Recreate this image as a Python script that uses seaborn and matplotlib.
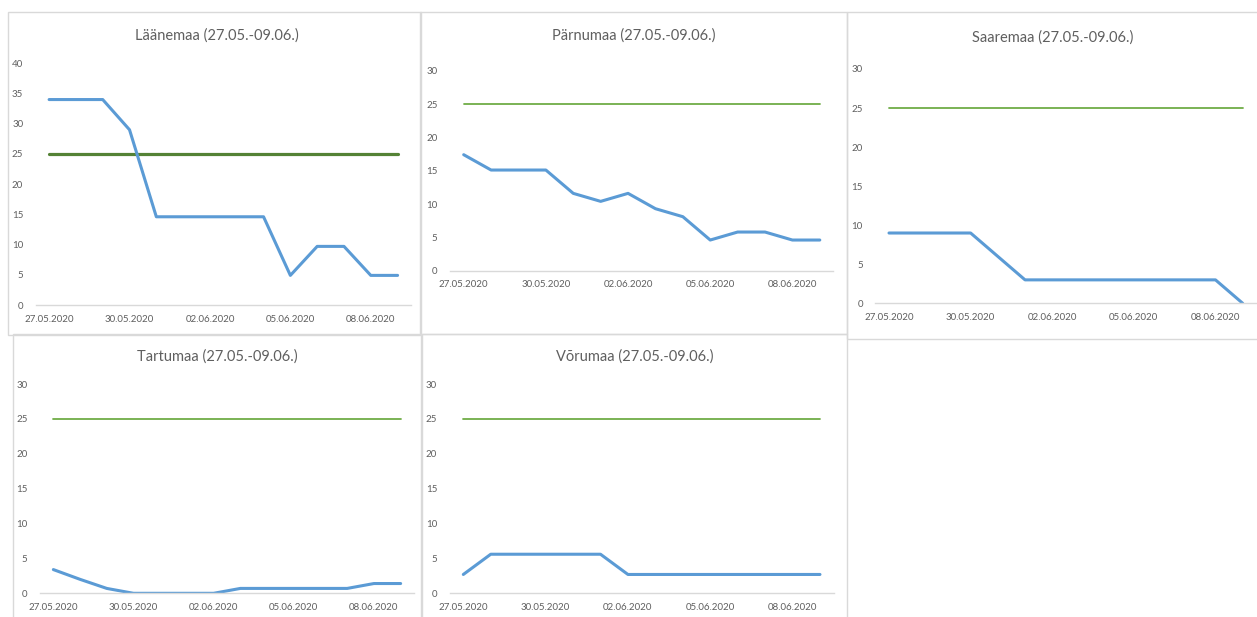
import matplotlib
matplotlib.use("Agg")
import matplotlib.pyplot as plt
from matplotlib.patches import Rectangle
import pandas as pd
import seaborn as sns

# 14 days, 27.05.2020 - 09.06.2020
dates = ["27.05.2020", "28.05.2020", "29.05.2020", "30.05.2020", "31.05.2020",
         "01.06.2020", "02.06.2020", "03.06.2020", "04.06.2020", "05.06.2020",
         "06.06.2020", "07.06.2020", "08.06.2020", "09.06.2020"]

threshold = [25, 25, 25, 25, 25, 25, 25, 25, 25, 25, 25, 25, 25, 25]

laanemaa = [34.0, 34.0, 34.0, 29.0, 14.6, 14.6, 14.6, 14.6, 14.6, 4.9, 9.7, 9.7, 4.9, 4.9]
parnumaa = [17.4, 15.1, 15.1, 15.1, 11.6, 10.4, 11.6, 9.3, 8.1, 4.6, 5.8, 5.8, 4.6, 4.6]
saaremaa = [9.0, 9.0, 9.0, 9.0, 6.0, 3.0, 3.0, 3.0, 3.0, 3.0, 3.0, 3.0, 3.0, 0.0]
tartumaa = [3.4, 2.0, 0.7, 0.0, 0.0, 0.0, 0.0, 0.7, 0.7, 0.7, 0.7, 0.7, 1.4, 1.4]
vorumaa = [2.7, 5.6, 5.6, 5.6, 5.6, 5.6, 2.7, 2.7, 2.7, 2.7, 2.7, 2.7, 2.7, 2.7]

titles = ["Läänemaa (27.05.-09.06.)", "Pärnumaa (27.05.-09.06.)", "Saaremaa (27.05.-09.06.)",
          "Tartumaa (27.05.-09.06.)", "Võrumaa (27.05.-09.06.)"]
series = [laanemaa, parnumaa, saaremaa, tartumaa, vorumaa]
ymax = [40, 30, 30, 30, 30]

W, H = 1257, 617

# layout in pixels: box (l, t, r, b), axes (l, r, y0, ytop), title y
panels = [
    dict(box=(8, 12, 421, 335), ax=(35.7, 411, 305, 63.3), ty=36),
    dict(box=(420, 12, 847, 334), ax=(450, 833.5, 270.7, 70.7), ty=36),
    dict(box=(847, 12, 1258, 339), ax=(875.4, 1256.3, 303.3, 69), ty=38),
    dict(box=(13, 334, 421, 620), ax=(40, 414, 593.3, 384), ty=357),
    dict(box=(422, 334, 847, 620), ax=(449.6, 833.7, 593.3, 384), ty=357),
]

sns.set_theme(style="white")
plt.rcParams["font.family"] = ["Lato", "DejaVu Sans"]

TXT = "#5f5f5f"
BLUE = "#5B9BD5"
GREEN = "#70AD47"
DKGREEN = "#548235"
GRID = "#D9D9D9"

fig = plt.figure(figsize=(W / 100, H / 100), dpi=100)

for i, p in enumerate(panels):
    bl, bt, br, bb = p["box"]
    fig.patches.append(Rectangle((bl / W, 1 - bb / H), (br - bl) / W, (bb - bt) / H,
                                 transform=fig.transFigure, fill=False,
                                 edgecolor=GRID, linewidth=1.0, zorder=0))

    al, ar, ay0, aytop = p["ax"]
    ax = fig.add_axes([al / W, 1 - ay0 / H, (ar - al) / W, (ay0 - aytop) / H])
    ax.patch.set_alpha(0)

    df = pd.DataFrame({"day": range(len(dates)), "value": series[i], "limit": threshold})
    if i == 0:
        sns.lineplot(data=df, x="day", y="limit", ax=ax, color=DKGREEN, linewidth=2.3)
    else:
        sns.lineplot(data=df, x="day", y="limit", ax=ax, color=GREEN, linewidth=1.3)
    sns.lineplot(data=df, x="day", y="value", ax=ax, color=BLUE, linewidth=2.2)

    ax.set_xlim(-0.5, len(dates) - 0.5)
    ax.set_ylim(0, ymax[i])
    ax.set_yticks(range(0, ymax[i] + 1, 5))
    ax.tick_params(axis="y", length=0, pad=9, labelsize=7, labelcolor=TXT)

    ax.set_xticks([-0.5, 2.5, 5.5, 8.5, 11.5])
    ax.set_xticklabels([])
    ax.set_xticks([0, 3, 6, 9, 12], minor=True)
    ax.set_xticklabels([dates[k] for k in [0, 3, 6, 9, 12]], minor=True)
    ax.tick_params(axis="x", which="major", length=4, width=0.8, color=GRID, direction="out")
    ax.tick_params(axis="x", which="minor", length=0, pad=7, labelsize=7, labelcolor=TXT)

    for s in ["left", "right", "top"]:
        ax.spines[s].set_visible(False)
    ax.spines["bottom"].set_color(GRID)
    ax.spines["bottom"].set_linewidth(1.0)
    ax.set_xlabel("")
    ax.set_ylabel("")
    ax.grid(False)

    bx = (bl + br) / 2 + (2 if i == 0 else 0)
    fig.text(bx / W, 1 - p["ty"] / H, titles[i], ha="center", va="center",
             fontsize=10.5, color=TXT)

fig.savefig("out.png", dpi=100, facecolor="white")
